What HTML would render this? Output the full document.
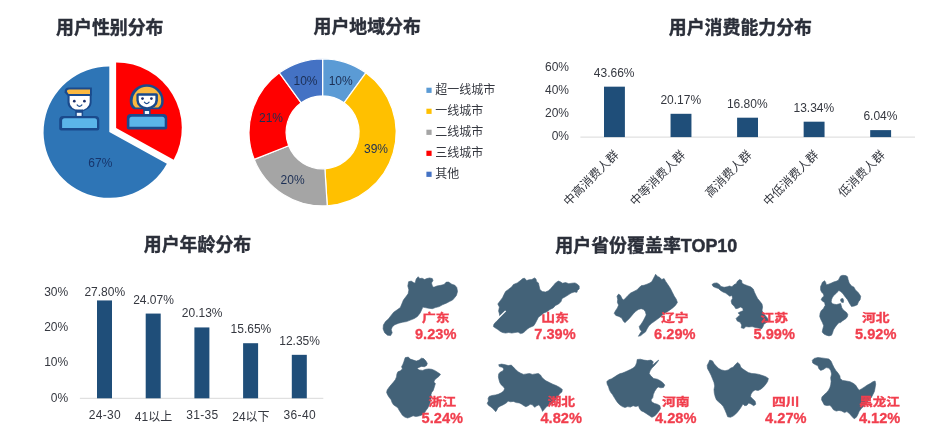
<!DOCTYPE html>
<html lang="zh-CN"><head><meta charset="utf-8"><title>用户画像</title>
<style>
html,body{margin:0;padding:0;background:#ffffff;}
body{width:936px;height:436px;overflow:hidden;}
svg{display:block;font-family:"Liberation Sans","Noto Sans CJK SC",sans-serif;}
</style></head><body>
<svg width="936" height="436" viewBox="0 0 936 436">
<rect width="936" height="436" fill="#ffffff"/>
<text x="109.80" y="33.50" font-size="17.9" text-anchor="middle" fill="#2b2f3a" font-weight="bold"  stroke="#2b2f3a" stroke-width="0.4">用户性别分布</text>
<text x="367.20" y="33.10" font-size="17.9" text-anchor="middle" fill="#2b2f3a" font-weight="bold"  stroke="#2b2f3a" stroke-width="0.4">用户地域分布</text>
<text x="740.40" y="33.90" font-size="17.9" text-anchor="middle" fill="#2b2f3a" font-weight="bold"  stroke="#2b2f3a" stroke-width="0.4">用户消费能力分布</text>
<text x="197.50" y="251.30" font-size="17.9" text-anchor="middle" fill="#2b2f3a" font-weight="bold"  stroke="#2b2f3a" stroke-width="0.4">用户年龄分布</text>
<text x="646.30" y="251.50" font-size="17.9" text-anchor="middle" fill="#2b2f3a" font-weight="bold" textLength="182" lengthAdjust="spacingAndGlyphs" stroke="#2b2f3a" stroke-width="0.4">用户省份覆盖率TOP10</text>
<path d="M109.30,132.10L166.87,163.75A65.7,65.7 0 1 1 109.30,66.40Z" fill="#2e75b6"/>
<path d="M116.10,128.10L116.10,62.40A65.7,65.7 0 0 1 173.67,159.75Z" fill="#ff0000"/>
<text x="100.30" y="167.00" font-size="12" text-anchor="middle" fill="#17356b" font-weight="normal" >67%</text>
<g>
<path d="M64.6,92.6 Q64.4,87.5 69,87.5 H91.9 V95.6 H67.2 Z" fill="#1a4a8c"/>
<path d="M67,91.8 Q66.8,89.5 69.4,89.5 H90 V93.9 H68.6 Z" fill="#fbb83f"/>
<path d="M67.5,94.6 H91.6 V102.4 A12.05,9.0 0 0 1 67.5,102.4 Z" fill="#1a4a8c"/>
<path d="M69.6,96.1 H89.7 V102.2 A10.05,8.1 0 0 1 69.6,102.2 Z" fill="#ffffff"/>
<circle cx="74.3" cy="101.2" r="1.35" fill="#1b2f6a"/><circle cx="84.4" cy="101.2" r="1.35" fill="#1b2f6a"/>
<path d="M77.1,104.9 Q79.5,107.9 81.9,104.9" fill="none" stroke="#1a4a8c" stroke-width="1.2" stroke-linecap="round"/>
<rect x="75.3" y="109.5" width="7.8" height="8" fill="#1a4a8c"/>
<rect x="76.8" y="112.8" width="4.8" height="3.1" fill="#eef7fd"/>
<path d="M59.2,128.5 V120 A4,4 0 0 1 63.2,116 H95.3 A4,4 0 0 1 99.3,120 V128.5 A2,2 0 0 1 97.3,130.5 H61.2 A2,2 0 0 1 59.2,128.5 Z" fill="#1a4a8c"/>
<path d="M62.1,127.9 V120.8 A2.5,2.5 0 0 1 64.6,118.3 H94.5 A2.5,2.5 0 0 1 97,120.8 V127.9 Z" fill="#5bb5e9"/>
</g>
<g>
<path d="M129.7,101 A17,16.8 0 0 1 163.7,101 Q163.7,107 159.5,109.3 H133.9 Q129.7,107 129.7,101 Z" fill="#1a4a8c"/>
<path d="M132.6,101 A14.3,14.3 0 0 1 161.2,101 Q161.2,105.6 158.2,107.4 H135.6 Q132.6,105.6 132.6,101 Z" fill="#fbb83f"/>
<path d="M136.4,95 Q136.4,93.2 138.2,93.2 H156.1 Q157.9,93.2 157.9,95 V100.4 A10.75,8.9 0 0 1 136.4,100.4 Z" fill="#1a4a8c"/>
<path d="M138.7,95.7 H155.4 V100 A8.35,7.2 0 0 1 138.7,100 Z" fill="#ffffff"/>
<circle cx="142.5" cy="98.6" r="1.35" fill="#1b2f6a"/><circle cx="151.4" cy="98.6" r="1.35" fill="#1b2f6a"/>
<path d="M144.4,102.2 Q146.7,105 149.1,102.2" fill="none" stroke="#1a4a8c" stroke-width="1.2" stroke-linecap="round"/>
<rect x="143.2" y="108" width="7.4" height="7" fill="#1a4a8c"/>
<rect x="144.8" y="111" width="4.3" height="3.1" fill="#eef7fd"/>
<path d="M126.8,127.4 V117.9 A4,4 0 0 1 130.8,113.9 H163.2 A4,4 0 0 1 167.2,117.9 V127.4 A2,2 0 0 1 165.2,129.4 H128.8 A2,2 0 0 1 126.8,127.4 Z" fill="#1a4a8c"/>
<path d="M129.4,126.8 V119.3 A2.5,2.5 0 0 1 131.9,116.8 H162.2 A2.5,2.5 0 0 1 164.7,119.3 V126.8 Z" fill="#5bb5e9"/>
</g>
<path d="M322.60,58.80A73.55,73.55 0 0 1 365.83,72.85L344.05,102.82A36.5,36.5 0 0 0 322.60,95.85Z" fill="#5b9bd5" stroke="#ffffff" stroke-width="1.2" stroke-linejoin="round"/>
<path d="M365.83,72.85A73.55,73.55 0 0 1 327.22,205.75L324.89,168.78A36.5,36.5 0 0 0 344.05,102.82Z" fill="#ffc000" stroke="#ffffff" stroke-width="1.2" stroke-linejoin="round"/>
<path d="M327.22,205.75A73.55,73.55 0 0 1 254.21,159.43L288.66,145.79A36.5,36.5 0 0 0 324.89,168.78Z" fill="#a5a5a5" stroke="#ffffff" stroke-width="1.2" stroke-linejoin="round"/>
<path d="M254.21,159.43A73.55,73.55 0 0 1 279.37,72.85L301.15,102.82A36.5,36.5 0 0 0 288.66,145.79Z" fill="#ff0000" stroke="#ffffff" stroke-width="1.2" stroke-linejoin="round"/>
<path d="M279.37,72.85A73.55,73.55 0 0 1 322.60,58.80L322.60,95.85A36.5,36.5 0 0 0 301.15,102.82Z" fill="#4472c4" stroke="#ffffff" stroke-width="1.2" stroke-linejoin="round"/>
<text x="340.70" y="84.60" font-size="12" text-anchor="middle" fill="#1c2f55" font-weight="normal" >10%</text>
<text x="376.00" y="153.00" font-size="12" text-anchor="middle" fill="#1c2f55" font-weight="normal" >39%</text>
<text x="292.60" y="183.90" font-size="12" text-anchor="middle" fill="#1c2f55" font-weight="normal" >20%</text>
<text x="271.00" y="121.60" font-size="12" text-anchor="middle" fill="#1c2f55" font-weight="normal" >21%</text>
<text x="305.50" y="84.60" font-size="12" text-anchor="middle" fill="#1c2f55" font-weight="normal" >10%</text>
<rect x="426.4" y="87.70" width="5.2" height="5.2" fill="#5b9bd5"/>
<text x="435.20" y="93.90" font-size="12" text-anchor="start" fill="#353840" font-weight="normal" >超一线城市</text>
<rect x="426.4" y="108.70" width="5.2" height="5.2" fill="#ffc000"/>
<text x="435.20" y="114.90" font-size="12" text-anchor="start" fill="#353840" font-weight="normal" >一线城市</text>
<rect x="426.4" y="129.70" width="5.2" height="5.2" fill="#a5a5a5"/>
<text x="435.20" y="135.90" font-size="12" text-anchor="start" fill="#353840" font-weight="normal" >二线城市</text>
<rect x="426.4" y="150.70" width="5.2" height="5.2" fill="#ff0000"/>
<text x="435.20" y="156.90" font-size="12" text-anchor="start" fill="#353840" font-weight="normal" >三线城市</text>
<rect x="426.4" y="171.70" width="5.2" height="5.2" fill="#4472c4"/>
<text x="435.20" y="177.90" font-size="12" text-anchor="start" fill="#353840" font-weight="normal" >其他</text>
<rect x="580.4" y="136.6" width="334.6" height="1" fill="#d9d9d9"/>
<rect x="604.00" y="86.67" width="20.9" height="50.43" fill="#1f4e79"/>
<text x="614.20" y="76.87" font-size="12" text-anchor="middle" fill="#353840" font-weight="normal" >43.66%</text>
<text x="619.50" y="155.60" font-size="12" text-anchor="end" fill="#353840" transform="rotate(-45 619.50 155.60)">中高消费人群</text>
<rect x="670.55" y="113.80" width="20.9" height="23.30" fill="#1f4e79"/>
<text x="680.75" y="104.00" font-size="12" text-anchor="middle" fill="#353840" font-weight="normal" >20.17%</text>
<text x="686.05" y="155.60" font-size="12" text-anchor="end" fill="#353840" transform="rotate(-45 686.05 155.60)">中等消费人群</text>
<rect x="737.10" y="117.70" width="20.9" height="19.40" fill="#1f4e79"/>
<text x="747.30" y="107.90" font-size="12" text-anchor="middle" fill="#353840" font-weight="normal" >16.80%</text>
<text x="752.60" y="155.60" font-size="12" text-anchor="end" fill="#353840" transform="rotate(-45 752.60 155.60)">高消费人群</text>
<rect x="803.65" y="121.69" width="20.9" height="15.41" fill="#1f4e79"/>
<text x="813.85" y="111.89" font-size="12" text-anchor="middle" fill="#353840" font-weight="normal" >13.34%</text>
<text x="819.15" y="155.60" font-size="12" text-anchor="end" fill="#353840" transform="rotate(-45 819.15 155.60)">中低消费人群</text>
<rect x="870.20" y="130.12" width="20.9" height="6.98" fill="#1f4e79"/>
<text x="880.40" y="120.32" font-size="12" text-anchor="middle" fill="#353840" font-weight="normal" >6.04%</text>
<text x="885.70" y="155.60" font-size="12" text-anchor="end" fill="#353840" transform="rotate(-45 885.70 155.60)">低消费人群</text>
<text x="569.00" y="140.10" font-size="12" text-anchor="end" fill="#353840" font-weight="normal" >0%</text>
<text x="569.00" y="117.00" font-size="12" text-anchor="end" fill="#353840" font-weight="normal" >20%</text>
<text x="569.00" y="93.90" font-size="12" text-anchor="end" fill="#353840" font-weight="normal" >40%</text>
<text x="569.00" y="70.80" font-size="12" text-anchor="end" fill="#353840" font-weight="normal" >60%</text>
<rect x="79.9" y="397.8" width="243.4" height="1" fill="#d9d9d9"/>
<rect x="97.00" y="300.44" width="15" height="97.86" fill="#1f4e79"/>
<text x="104.80" y="295.60" font-size="12" text-anchor="middle" fill="#353840" font-weight="normal" >27.80%</text>
<text x="104.80" y="418.90" font-size="12" text-anchor="middle" fill="#353840" font-weight="normal" textLength="32" lengthAdjust="spacing">24-30</text>
<rect x="145.70" y="313.57" width="15" height="84.73" fill="#1f4e79"/>
<text x="153.50" y="303.57" font-size="12" text-anchor="middle" fill="#353840" font-weight="normal" >24.07%</text>
<text x="153.50" y="421.10" font-size="12" text-anchor="middle" fill="#353840" font-weight="normal" >41以上</text>
<rect x="194.40" y="327.44" width="15" height="70.86" fill="#1f4e79"/>
<text x="202.20" y="317.44" font-size="12" text-anchor="middle" fill="#353840" font-weight="normal" >20.13%</text>
<text x="202.20" y="418.90" font-size="12" text-anchor="middle" fill="#353840" font-weight="normal" textLength="32" lengthAdjust="spacing">31-35</text>
<rect x="243.10" y="343.21" width="15" height="55.09" fill="#1f4e79"/>
<text x="250.90" y="333.21" font-size="12" text-anchor="middle" fill="#353840" font-weight="normal" >15.65%</text>
<text x="250.90" y="421.10" font-size="12" text-anchor="middle" fill="#353840" font-weight="normal" >24以下</text>
<rect x="291.80" y="354.83" width="15" height="43.47" fill="#1f4e79"/>
<text x="299.60" y="344.83" font-size="12" text-anchor="middle" fill="#353840" font-weight="normal" >12.35%</text>
<text x="299.60" y="418.90" font-size="12" text-anchor="middle" fill="#353840" font-weight="normal" textLength="32" lengthAdjust="spacing">36-40</text>
<text x="68.20" y="401.50" font-size="12" text-anchor="end" fill="#353840" font-weight="normal" >0%</text>
<text x="68.20" y="366.30" font-size="12" text-anchor="end" fill="#353840" font-weight="normal" >10%</text>
<text x="68.20" y="331.10" font-size="12" text-anchor="end" fill="#353840" font-weight="normal" >20%</text>
<text x="68.20" y="295.90" font-size="12" text-anchor="end" fill="#353840" font-weight="normal" >30%</text>
<path d="M408.6,281.7 L411.2,281.1 L413.5,282.6 L415.1,283.2 L416.2,279.0 L418.2,276.7 L419.8,278.6 L422.1,278.2 L424.5,279.5 L426.8,278.6 L429.6,277.9 L432.3,278.6 L433.0,280.6 L431.5,282.9 L432.3,286.0 L433.8,287.3 L436.9,286.0 L440.8,285.3 L444.0,284.5 L446.3,282.1 L448.6,282.1 L451.8,284.2 L454.9,285.3 L456.8,287.6 L457.5,291.5 L456.4,295.4 L454.6,297.7 L452.5,300.1 L449.4,301.6 L446.3,303.2 L442.4,304.8 L439.3,306.6 L435.4,307.6 L432.3,308.7 L428.4,308.2 L425.2,307.6 L422.9,307.1 L421.8,309.4 L420.2,312.9 L417.4,316.5 L414.3,318.5 L410.4,320.1 L406.5,321.6 L402.6,322.2 L398.7,323.2 L394.8,324.7 L392.2,326.9 L391.2,329.7 L392.2,332.8 L390.6,335.6 L387.5,335.2 L384.7,332.8 L383.1,328.9 L383.4,325.0 L385.5,321.6 L388.6,318.8 L390.9,315.7 L393.7,312.2 L397.2,309.8 L400.3,307.6 L401.8,304.0 L403.4,300.1 L405.7,297.0 L408.1,293.8 L408.9,289.9 L407.8,286.0Z" fill="#436278" stroke="#436278" stroke-width="0.6" stroke-linejoin="round"/>
<path d="M522.8,278.6 L524.6,278.2 L526.7,280.6 L529.0,279.8 L531.8,279.5 L534.5,277.9 L536.0,279.0 L536.5,281.4 L538.4,282.9 L539.1,286.0 L539.9,289.5 L542.2,291.5 L545.4,292.0 L548.5,290.7 L550.8,288.4 L553.2,285.7 L555.5,282.9 L558.3,281.1 L560.2,281.7 L562.5,283.2 L565.6,282.6 L568.8,283.7 L571.9,283.2 L575.0,282.9 L577.4,284.2 L579.2,286.0 L579.2,288.9 L577.4,290.4 L577.0,292.3 L574.2,292.0 L571.1,293.1 L568.0,295.1 L564.9,297.0 L562.1,298.5 L561.0,301.6 L558.6,304.0 L555.5,305.5 L553.2,307.9 L550.0,309.4 L546.9,311.8 L543.8,312.9 L541.5,314.9 L538.4,317.2 L536.8,320.4 L535.2,323.5 L533.7,325.8 L529.8,327.4 L527.4,328.9 L525.1,331.3 L522.8,333.1 L520.4,333.6 L518.1,332.1 L515.0,332.5 L511.8,333.1 L508.7,332.5 L505.6,333.1 L502.5,332.5 L500.1,331.3 L497.8,329.4 L495.5,328.1 L493.4,326.6 L493.9,324.2 L496.2,321.6 L498.6,318.8 L499.8,316.4 L499.4,313.8 L498.6,311.0 L499.4,307.1 L497.8,304.0 L500.1,300.9 L502.5,297.7 L504.0,294.6 L505.6,291.5 L508.7,289.2 L511.8,286.8 L513.4,284.5 L517.3,282.9 L520.4,280.6Z" fill="#436278" stroke="#436278" stroke-width="0.6" stroke-linejoin="round"/>
<path d="M655.6,274.3 L657.6,276.4 L659.8,277.5 L661.8,279.5 L664.1,278.6 L665.7,281.4 L668.0,284.8 L670.4,288.4 L672.3,292.3 L674.3,296.2 L676.3,299.3 L677.4,302.4 L675.4,305.5 L672.7,307.9 L669.6,310.2 L666.5,312.2 L663.4,314.1 L661.0,316.4 L657.9,318.8 L654.8,321.1 L651.7,323.2 L648.9,325.8 L647.0,328.9 L645.4,332.1 L643.1,333.6 L640.8,335.6 L638.4,336.3 L640.0,333.6 L641.5,331.3 L640.0,329.4 L639.2,326.6 L641.1,324.2 L643.1,321.1 L644.7,318.0 L646.2,314.9 L645.4,311.8 L643.6,309.4 L641.1,308.7 L638.4,309.4 L635.8,311.3 L633.3,313.8 L631.1,316.4 L629.1,318.8 L626.7,321.1 L624.9,322.7 L623.3,321.1 L621.7,318.0 L618.9,316.4 L615.8,315.4 L614.2,313.3 L615.5,310.7 L617.4,307.9 L618.6,305.1 L617.4,302.4 L617.7,299.3 L617.0,296.2 L618.6,294.1 L620.5,295.4 L622.0,298.5 L623.6,300.1 L625.9,297.7 L628.0,295.4 L630.6,293.1 L633.7,291.5 L636.9,289.9 L639.2,287.6 L641.1,285.7 L643.9,285.3 L647.0,284.2 L649.3,283.2 L651.7,281.7 L653.2,279.0 L654.5,276.4Z" fill="#436278" stroke="#436278" stroke-width="0.6" stroke-linejoin="round"/>
<path d="M739.7,279.5 L741.7,280.6 L742.0,283.2 L744.3,284.5 L747.5,285.7 L750.6,286.8 L753.2,288.9 L754.5,292.3 L756.0,295.4 L757.6,298.5 L759.9,301.3 L762.0,304.0 L762.6,307.1 L762.0,310.2 L763.0,312.9 L765.4,315.7 L767.3,318.0 L768.5,320.7 L766.2,322.7 L763.8,324.2 L763.0,326.6 L761.5,328.9 L758.4,328.1 L755.2,327.4 L752.1,326.6 L749.0,326.9 L745.9,326.6 L743.9,328.5 L741.2,327.8 L741.7,325.0 L740.1,322.2 L737.3,321.1 L736.1,318.5 L738.1,316.4 L740.1,314.9 L738.1,312.9 L740.4,311.8 L743.2,310.7 L742.8,308.2 L740.4,307.1 L738.1,308.2 L735.8,308.7 L734.2,306.3 L731.9,304.0 L731.1,300.9 L732.6,298.2 L731.9,295.4 L729.8,296.2 L727.6,294.6 L725.6,293.1 L723.0,292.0 L720.5,290.4 L718.3,288.4 L715.5,287.6 L713.1,286.4 L712.0,284.5 L713.9,283.2 L717.0,282.9 L719.4,284.5 L720.9,286.4 L724.1,287.3 L727.2,286.8 L729.5,286.0 L731.9,286.8 L733.9,284.8 L736.1,283.7 L737.6,281.1Z" fill="#436278" stroke="#436278" stroke-width="0.6" stroke-linejoin="round"/>
<path d="M637.2,359.5 L640.3,359.2 L643.8,360.1 L647.4,360.6 L651.0,360.1 L653.3,361.8 L652.2,364.5 L653.7,364.2 L656.4,361.8 L658.7,360.1 L657.6,361.8 L654.6,365.4 L651.9,368.1 L650.1,370.8 L649.2,373.5 L651.0,376.1 L653.7,378.5 L657.3,379.2 L659.9,380.6 L662.6,382.4 L664.8,385.1 L663.5,387.4 L660.8,387.8 L658.1,386.9 L656.4,388.7 L654.6,391.4 L653.3,394.6 L652.8,397.6 L651.0,399.9 L651.9,402.1 L654.6,403.5 L657.3,404.2 L659.9,405.7 L660.5,408.4 L659.0,411.0 L656.9,413.7 L654.6,416.1 L651.9,417.3 L649.2,415.5 L646.5,413.7 L643.8,411.9 L641.1,410.7 L639.4,408.4 L638.5,405.7 L635.8,406.6 L633.1,405.7 L630.4,407.1 L627.7,406.6 L625.0,407.5 L622.4,406.6 L619.7,404.8 L617.5,402.5 L615.8,399.9 L614.0,397.1 L612.5,394.6 L610.7,392.3 L609.3,389.6 L608.6,386.9 L607.2,384.2 L606.8,381.5 L609.0,379.7 L611.6,378.8 L614.3,377.1 L617.0,375.3 L619.7,373.8 L622.4,373.1 L625.0,372.0 L627.7,370.8 L630.4,369.5 L633.1,368.1 L635.4,366.0 L636.7,362.7Z" fill="#436278" stroke="#436278" stroke-width="0.6" stroke-linejoin="round"/>
<path d="M709.8,360.1 L712.5,360.9 L714.0,363.6 L716.1,366.0 L718.8,368.5 L721.5,369.9 L725.0,370.8 L728.3,369.9 L730.8,368.1 L733.1,367.2 L735.4,364.5 L737.6,362.4 L739.7,364.2 L740.8,367.2 L742.9,369.0 L745.6,370.8 L748.3,372.6 L751.9,373.5 L755.5,373.8 L759.0,374.4 L762.6,375.6 L765.8,376.7 L768.4,378.5 L767.6,381.5 L765.8,384.2 L763.5,386.9 L760.8,389.2 L758.1,390.5 L755.1,389.9 L752.8,391.4 L751.0,394.1 L750.5,396.7 L752.8,398.9 L755.1,401.2 L755.8,404.2 L753.7,405.7 L751.0,403.9 L748.7,403.0 L746.9,405.3 L744.7,405.7 L742.9,403.9 L741.5,406.6 L739.7,409.3 L737.6,411.9 L735.4,414.3 L733.1,416.1 L730.4,417.3 L727.7,416.8 L726.5,413.7 L725.0,410.1 L723.3,406.6 L721.1,403.9 L718.8,402.1 L716.5,399.9 L715.2,396.7 L714.3,393.1 L714.0,389.6 L714.7,386.0 L714.0,382.4 L712.5,378.8 L711.1,375.3 L709.3,371.7 L707.5,368.5 L707.2,365.4 L708.6,362.7Z" fill="#436278" stroke="#436278" stroke-width="0.6" stroke-linejoin="round"/>
<path d="M812.3,360.3 L814.2,358.4 L817.9,357.5 L821.5,357.9 L825.2,358.4 L828.9,359.0 L831.1,361.2 L832.5,364.5 L834.0,367.6 L835.8,370.4 L838.0,373.1 L839.9,375.9 L840.2,378.6 L842.6,380.4 L846.3,381.0 L850.0,381.7 L853.1,383.2 L855.5,385.0 L857.3,387.8 L859.1,390.2 L861.9,388.7 L864.6,386.9 L867.4,385.0 L870.2,383.6 L872.9,381.7 L875.1,381.0 L875.7,384.1 L875.1,387.8 L874.4,391.5 L872.9,394.6 L871.1,397.9 L868.3,400.6 L866.5,403.4 L863.7,406.1 L861.0,408.9 L859.1,411.6 L857.9,414.4 L856.4,417.2 L854.2,418.8 L852.0,416.6 L849.6,413.7 L846.9,411.6 L844.5,412.6 L841.7,411.1 L839.0,410.4 L836.2,411.1 L833.5,409.8 L831.6,407.1 L829.8,405.2 L827.0,405.6 L824.3,404.9 L823.0,402.5 L821.5,399.7 L821.9,397.0 L824.3,394.6 L826.7,392.4 L828.5,390.2 L829.8,387.8 L830.7,385.0 L831.1,381.4 L830.7,377.7 L831.6,374.0 L830.7,370.4 L828.9,368.1 L826.1,367.6 L823.4,369.4 L820.6,370.4 L818.8,368.5 L817.9,365.8 L815.1,364.5 L812.7,363.0Z" fill="#436278" stroke="#436278" stroke-width="0.6" stroke-linejoin="round"/>
<path d="M840.6,275.9 L842.9,275.3 L845.8,275.6 L847.5,276.7 L848.1,279.6 L849.2,283.0 L851.5,285.9 L853.8,287.0 L855.5,289.9 L858.4,292.8 L860.7,296.2 L860.1,299.7 L858.4,301.9 L857.3,304.8 L854.4,306.0 L851.5,306.5 L850.0,304.2 L848.7,301.9 L847.5,299.7 L846.1,297.9 L844.7,296.2 L843.5,294.5 L842.4,293.1 L840.6,291.6 L838.9,290.5 L837.2,292.2 L835.5,293.9 L833.8,295.6 L832.4,297.4 L831.5,299.7 L831.2,301.9 L832.4,303.7 L834.3,304.2 L836.6,304.6 L838.9,303.9 L840.6,303.4 L841.2,305.4 L841.8,307.7 L842.9,309.4 L844.7,311.1 L846.6,312.6 L847.8,314.6 L847.5,316.5 L846.1,318.4 L844.3,319.7 L842.4,320.9 L840.6,322.6 L838.9,322.7 L836.8,325.0 L835.0,327.4 L833.4,330.0 L832.6,332.8 L831.5,335.2 L829.0,335.9 L826.4,335.2 L824.0,334.1 L822.2,332.1 L822.8,328.9 L823.7,325.8 L822.5,322.7 L820.9,319.6 L819.7,316.4 L820.1,313.3 L821.2,310.7 L823.3,308.7 L824.8,306.0 L825.2,305.4 L824.6,302.5 L822.9,301.4 L821.1,299.7 L822.3,297.4 L824.0,296.2 L823.4,293.9 L821.7,292.2 L820.6,289.9 L820.6,286.5 L821.7,284.2 L822.3,282.4 L824.6,280.7 L825.7,282.4 L826.3,284.8 L828.6,284.2 L831.5,283.0 L833.8,281.9 L836.1,281.3 L838.4,280.2 L839.5,277.9Z" fill="#436278" stroke="#436278" stroke-width="0.6" stroke-linejoin="round"/>
<path d="M840.9,298.9 L842.9,298.4 L843.6,300.5 L843.3,302.5 L841.6,302.3 L840.6,300.5Z" fill="#436278" stroke="#436278" stroke-width="0.6" stroke-linejoin="round"/>
<path d="M386.6,392.4 L387.2,389.9 L389.1,387.2 L391.3,384.6 L393.5,382.1 L395.4,379.6 L396.5,376.9 L396.9,374.0 L397.9,371.8 L400.4,370.8 L402.4,368.9 L401.6,366.7 L402.8,364.5 L403.8,362.0 L404.6,359.3 L405.3,357.6 L408.2,357.1 L410.4,359.1 L413.4,360.1 L416.3,361.1 L419.2,360.1 L421.4,358.2 L423.6,358.6 L425.8,360.8 L427.3,363.4 L426.6,365.5 L424.4,366.7 L421.4,366.4 L418.9,367.4 L417.0,368.4 L419.2,369.9 L422.5,370.4 L425.8,369.3 L428.8,368.9 L431.7,369.3 L434.6,370.4 L437.6,372.3 L440.5,374.3 L439.1,376.2 L436.8,378.1 L434.6,379.9 L433.9,382.1 L435.4,383.6 L434.6,386.1 L433.9,388.4 L433.2,390.5 L431.7,392.4 L431.0,394.6 L431.4,396.8 L430.5,400.5 L429.6,404.2 L427.8,407.9 L425.9,410.6 L424.1,413.4 L421.3,415.2 L418.6,416.1 L415.8,416.5 L413.1,415.8 L410.3,417.1 L407.6,418.0 L404.8,417.1 L402.4,415.2 L400.6,412.4 L399.0,410.0 L397.9,407.8 L395.7,406.3 L393.5,404.8 L392.1,402.6 L391.1,399.7 L389.1,397.2 L387.7,394.9Z" fill="#436278" stroke="#436278" stroke-width="0.6" stroke-linejoin="round"/>
<path d="M498.7,364.7 L501.6,364.1 L505.3,364.7 L508.2,365.6 L511.2,365.1 L513.4,367.1 L515.6,369.5 L518.1,371.7 L520.7,373.2 L523.6,374.4 L526.6,373.9 L529.5,373.5 L532.4,374.4 L535.4,373.9 L538.3,373.5 L540.5,375.0 L542.0,377.6 L544.2,379.4 L545.9,380.8 L549.4,382.5 L552.8,384.2 L556.2,385.6 L559.7,387.4 L562.3,389.4 L561.9,392.0 L559.7,393.7 L558.0,396.3 L556.2,398.9 L554.5,401.5 L552.0,403.5 L549.4,404.9 L546.8,406.6 L544.7,408.7 L542.5,411.4 L542.0,409.9 L540.5,407.0 L539.0,404.8 L536.8,405.8 L534.6,407.3 L532.4,404.8 L530.2,404.3 L528.0,405.8 L525.8,406.7 L523.6,405.5 L521.4,404.0 L519.2,402.9 L516.3,402.6 L513.4,401.4 L510.4,401.8 L508.2,401.1 L506.8,402.6 L504.6,404.0 L502.4,405.2 L500.1,406.2 L497.9,407.7 L496.9,409.9 L495.7,411.7 L494.6,410.6 L492.8,408.4 L490.6,406.7 L488.4,405.2 L487.2,403.3 L488.4,401.1 L488.1,398.5 L489.1,396.4 L492.1,395.5 L495.7,394.9 L498.7,394.1 L501.6,392.6 L503.8,390.8 L504.6,388.6 L503.4,386.7 L501.3,384.9 L499.9,382.8 L499.0,379.8 L498.4,376.9 L498.7,373.9 L500.4,372.0 L502.8,371.0 L503.8,369.1 L502.4,367.3 L499.4,366.6Z" fill="#436278" stroke="#436278" stroke-width="0.6" stroke-linejoin="round"/>
<path d="M494.8,320.5 L505.1,310.4 L506.2,311.3 L495.9,321.6Z" fill="#ffffff"/>
<text x="421.9" y="321.6" font-size="11.8" font-weight="bold" fill="#f13f4e" stroke="#f13f4e" stroke-width="0.35" textLength="27.6" lengthAdjust="spacingAndGlyphs">广东</text>
<text x="415.0" y="339.0" font-size="14.6" font-weight="bold" fill="#f13f4e" stroke="#f13f4e" stroke-width="0.3" textLength="41.4" lengthAdjust="spacingAndGlyphs">9.23%</text>
<text x="541.2" y="321.6" font-size="11.8" font-weight="bold" fill="#f13f4e" stroke="#f13f4e" stroke-width="0.35" textLength="27.6" lengthAdjust="spacingAndGlyphs">山东</text>
<text x="534.3" y="339.0" font-size="14.6" font-weight="bold" fill="#f13f4e" stroke="#f13f4e" stroke-width="0.3" textLength="41.4" lengthAdjust="spacingAndGlyphs">7.39%</text>
<text x="661.0" y="321.6" font-size="11.8" font-weight="bold" fill="#f13f4e" stroke="#f13f4e" stroke-width="0.35" textLength="27.6" lengthAdjust="spacingAndGlyphs">辽宁</text>
<text x="654.1" y="339.0" font-size="14.6" font-weight="bold" fill="#f13f4e" stroke="#f13f4e" stroke-width="0.3" textLength="41.4" lengthAdjust="spacingAndGlyphs">6.29%</text>
<text x="760.4" y="321.6" font-size="11.8" font-weight="bold" fill="#f13f4e" stroke="#f13f4e" stroke-width="0.35" textLength="27.6" lengthAdjust="spacingAndGlyphs">江苏</text>
<text x="753.5" y="339.0" font-size="14.6" font-weight="bold" fill="#f13f4e" stroke="#f13f4e" stroke-width="0.3" textLength="41.4" lengthAdjust="spacingAndGlyphs">5.99%</text>
<text x="861.9" y="321.6" font-size="11.8" font-weight="bold" fill="#f13f4e" stroke="#f13f4e" stroke-width="0.35" textLength="27.6" lengthAdjust="spacingAndGlyphs">河北</text>
<text x="855.0" y="339.0" font-size="14.6" font-weight="bold" fill="#f13f4e" stroke="#f13f4e" stroke-width="0.3" textLength="41.4" lengthAdjust="spacingAndGlyphs">5.92%</text>
<text x="428.5" y="405.8" font-size="11.8" font-weight="bold" fill="#f13f4e" stroke="#f13f4e" stroke-width="0.35" textLength="27.6" lengthAdjust="spacingAndGlyphs">浙江</text>
<text x="421.6" y="423.0" font-size="14.6" font-weight="bold" fill="#f13f4e" stroke="#f13f4e" stroke-width="0.3" textLength="41.4" lengthAdjust="spacingAndGlyphs">5.24%</text>
<text x="547.4" y="405.8" font-size="11.8" font-weight="bold" fill="#f13f4e" stroke="#f13f4e" stroke-width="0.35" textLength="27.6" lengthAdjust="spacingAndGlyphs">湖北</text>
<text x="540.5" y="423.0" font-size="14.6" font-weight="bold" fill="#f13f4e" stroke="#f13f4e" stroke-width="0.3" textLength="41.4" lengthAdjust="spacingAndGlyphs">4.82%</text>
<text x="661.9" y="405.8" font-size="11.8" font-weight="bold" fill="#f13f4e" stroke="#f13f4e" stroke-width="0.35" textLength="27.6" lengthAdjust="spacingAndGlyphs">河南</text>
<text x="655.0" y="423.0" font-size="14.6" font-weight="bold" fill="#f13f4e" stroke="#f13f4e" stroke-width="0.3" textLength="41.4" lengthAdjust="spacingAndGlyphs">4.28%</text>
<text x="772.0" y="405.8" font-size="11.8" font-weight="bold" fill="#f13f4e" stroke="#f13f4e" stroke-width="0.35" textLength="27.6" lengthAdjust="spacingAndGlyphs">四川</text>
<text x="765.1" y="423.0" font-size="14.6" font-weight="bold" fill="#f13f4e" stroke="#f13f4e" stroke-width="0.3" textLength="41.4" lengthAdjust="spacingAndGlyphs">4.27%</text>
<text x="859.3" y="405.8" font-size="11.8" font-weight="bold" fill="#f13f4e" stroke="#f13f4e" stroke-width="0.35" textLength="40.6" lengthAdjust="spacingAndGlyphs">黑龙江</text>
<text x="858.9" y="423.0" font-size="14.6" font-weight="bold" fill="#f13f4e" stroke="#f13f4e" stroke-width="0.3" textLength="41.4" lengthAdjust="spacingAndGlyphs">4.12%</text>
</svg>
</body></html>
